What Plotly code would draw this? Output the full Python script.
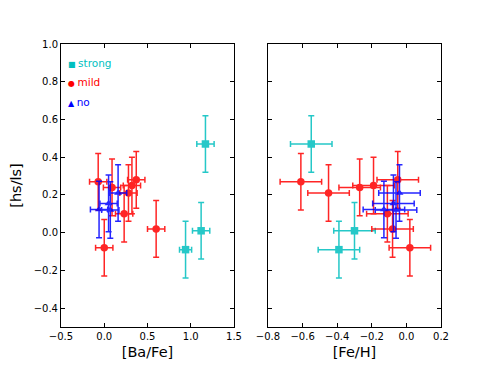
import plotly.graph_objects as go

# strong
strong_ba = [1.17, 0.94, 1.12]
strong_fe = [-0.55, -0.39, -0.30]
strong_hs = [0.47, -0.09, 0.01]
strong_ba_err = [0.10, 0.07, 0.10]
strong_fe_err = [0.12, 0.12, 0.12]
strong_hs_err = [0.15, 0.15, 0.15]

# mild
mild_ba = [-0.07, 0.00, 0.09, 0.32, 0.37, 0.28, 0.23, 0.60]
mild_fe = [-0.61, 0.02, -0.27, -0.19, -0.05, -0.45, -0.11, -0.08]
mild_hs = [0.27, -0.08, 0.24, 0.25, 0.28, 0.21, 0.10, 0.02]
mild_ba_err = [0.10, 0.10, 0.10, 0.10, 0.10, 0.10, 0.10, 0.10]
mild_fe_err = [0.12, 0.12, 0.12, 0.12, 0.12, 0.12, 0.12, 0.12]
mild_hs_err = [0.15, 0.15, 0.15, 0.15, 0.15, 0.15, 0.15, 0.15]

# no
no_ba = [0.16, 0.05, -0.06, 0.07]
no_fe = [-0.04, -0.075, -0.13, -0.06]
no_hs = [0.21, 0.155, 0.123, 0.12]
no_ba_err = [0.10, 0.10, 0.10, 0.10]
no_fe_err = [0.12, 0.12, 0.12, 0.12]
no_hs_err = [0.15, 0.15, 0.15, 0.15]

groups = [
    ("strong", "#00BFBF", "square", strong_ba, strong_fe, strong_hs, strong_ba_err, strong_fe_err, strong_hs_err),
    ("mild", "#FF0000", "circle", mild_ba, mild_fe, mild_hs, mild_ba_err, mild_fe_err, mild_hs_err),
    ("no", "#0000FF", "triangle-up", no_ba, no_fe, no_hs, no_ba_err, no_fe_err, no_hs_err),
]

fig = go.Figure()
for name, col, sym, ba, fe, hs, ba_e, fe_e, hs_e in groups:
    for xv, xe, xa, ya in [(ba, ba_e, "x", "y"), (fe, fe_e, "x2", "y2")]:
        fig.add_trace(go.Scatter(
            x=xv, y=hs, mode="markers", name=name, showlegend=False,
            xaxis=xa, yaxis=ya, opacity=0.85,
            marker=dict(color=col, symbol=sym, size=7.5 if sym != "triangle-up" else 7),
            error_x=dict(type="data", array=xe, color=col, thickness=1.5, width=3),
            error_y=dict(type="data", array=hs_e, color=col, thickness=1.5, width=3),
        ))

axis_common = dict(showline=True, linecolor="black", linewidth=1, mirror="ticks",
                   ticks="inside", ticklen=4, tickcolor="black", showgrid=False,
                   zeroline=False, automargin=False, tickfont=dict(size=10, color="black"))

# page body adds 8px offset; plot area should land at x 61..441, y 44..327
off = 8
L, T = 61 - off, 44 - off
R, B = 490 - (441 - off), 368 - (327 - off)
W = 490 - L - R
H = 368 - T - B
fig.update_layout(
    width=490, height=368, margin=dict(l=L, r=R, t=T, b=B),
    paper_bgcolor="white", plot_bgcolor="white",
    font=dict(family="DejaVu Sans", color="black"),
    xaxis=dict(domain=[0, (234 - 61) / W], range=[-0.5, 1.5], dtick=0.5,
               tickformat=".1f", title=dict(text="[Ba/Fe]", font=dict(size=14.5), standoff=5),
               anchor="y", **axis_common),
    yaxis=dict(domain=[0, 1], range=[-0.5, 1.0], dtick=0.2,
               tickformat=".1f", title=dict(text="[hs/ls]", font=dict(size=14.5), standoff=21),
               anchor="x", **axis_common),
    xaxis2=dict(domain=[(268 - 61) / W, 1], range=[-0.8, 0.2], dtick=0.2,
                tickformat=".1f", title=dict(text="[Fe/H]", font=dict(size=14.5), standoff=5),
                anchor="y2", **axis_common),
    yaxis2=dict(domain=[0, 1], range=[-0.5, 1.0], dtick=0.2,
                showticklabels=False, anchor="x2", **axis_common),
)

legend_y = [63, 82, 101.5]
for (name, col, sym, *_), py in zip(groups, legend_y):
    glyph = {"square": "\u25a0", "circle": "\u25cf", "triangle-up": "\u25b2"}[sym]
    fig.add_annotation(xref="paper", yref="paper", x=(66 - 61) / W, y=1 - (py - 44) / H,
                       xanchor="left", yanchor="middle", showarrow=False,
                       text=f"<span style='font-size:8px'>{glyph} </span>{name}",
                       font=dict(size=10.5, color=col))

fig.write_html("out.html")
